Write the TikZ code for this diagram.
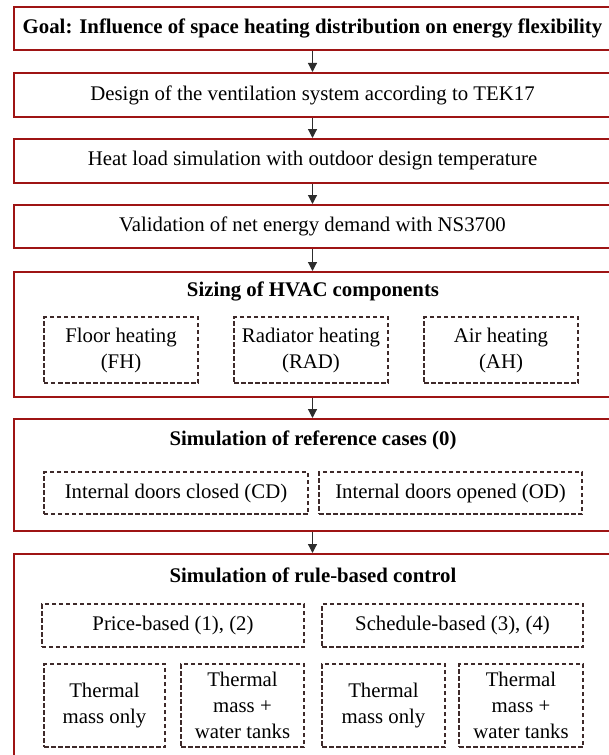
\documentclass[tikz,border=0pt]{standalone}
\usepackage{fontspec}
\setmainfont{Liberation Serif}
\usetikzlibrary{arrows.meta,positioning}
\definecolor{boxred}{RGB}{158,20,20}
\definecolor{dashbrown}{RGB}{62,42,42}
\definecolor{arrowgray}{RGB}{45,45,45}

\begin{document}
\begin{tikzpicture}[
  x=1bp, y=-1bp,
  every node/.style={font=\fontsize{20.8bp}{26bp}\selectfont, inner sep=0pt, align=center},
  mainbox/.style={draw=boxred, line width=2bp, minimum width=597bp},
  subbox/.style={draw=dashbrown, line width=1.3bp, dash pattern=on 4.5bp off 2.5bp},
  heading/.style={font=\fontsize{20.8bp}{26bp}\selectfont\bfseries},
  flow/.style={draw=arrowgray, line width=1.2bp, -{Triangle[length=9bp,width=9bp]}}
]
\useasboundingbox (0,0) rectangle (609,755);

% steps
\node[mainbox, heading, minimum height=43bp] (goal) at (312.5,28.5) {Goal: Influence of space heating distribution on energy flexibility};
\node[mainbox, minimum height=44bp] (design) at (312.5,95) {Design of the ventilation system according to TEK17};
\node[mainbox, minimum height=44bp] (heatload) at (312.5,161) {Heat load simulation with outdoor design temperature};
\node[mainbox, minimum height=43bp] (validation) at (312.5,226.5) {Validation of net energy demand with NS3700};

% sizing
\node[mainbox, minimum height=125bp] (sizing) at (312.5,334.5) {};
\node[heading] (sizingtitle) at (313,291) {Sizing of HVAC components};
\node[subbox, minimum width=154bp, minimum height=66bp] (fh) at (121,350) {Floor heating\\(FH)};
\node[subbox, minimum width=154bp, minimum height=66bp] (rad) at (311,350) {Radiator heating\\(RAD)};
\node[subbox, minimum width=154bp, minimum height=66bp] (ah) at (501,350) {Air heating\\(AH)};

% reference cases
\node[mainbox, minimum height=112bp] (refcases) at (312.5,475) {};
\node[heading] (reftitle) at (313,440) {Simulation of reference cases (0)};
\node[subbox, minimum width=264bp, minimum height=42bp] (closed) at (176,493) {Internal doors closed (CD)};
\node[subbox, minimum width=263bp, minimum height=42bp] (opened) at (450.5,493) {Internal doors opened (OD)};

% rule-based control
\node[mainbox, minimum height=226bp] (rulebased) at (312.5,667) {};
\node[heading] (ruletitle) at (313,575) {Simulation of rule-based control};
\node[subbox, minimum width=262bp, minimum height=43bp] (price) at (173,625.5) {Price-based (1), (2)};
\node[subbox, minimum width=261bp, minimum height=43bp] (schedule) at (452.5,625.5) {Schedule-based (3), (4)};
\node[subbox, minimum width=121bp, minimum height=83bp] (pmass) at (104.5,705.5) {Thermal\\mass only};
\node[subbox, minimum width=123bp, minimum height=83bp] (ptank) at (242.5,705.5) {Thermal\\mass +\\water tanks};
\node[subbox, minimum width=123bp, minimum height=83bp] (smass) at (383.5,705.5) {Thermal\\mass only};
\node[subbox, minimum width=124bp, minimum height=83bp] (stank) at (521,705.5) {Thermal\\mass +\\water tanks};

% arrows
\draw[flow] (goal) -- (design);
\draw[flow] (design) -- (heatload);
\draw[flow] (heatload) -- (validation);
\draw[flow] (validation) -- (sizing);
\draw[flow] (sizing) -- (refcases);
\draw[flow] (refcases) -- (rulebased);
\end{tikzpicture}
\end{document}
